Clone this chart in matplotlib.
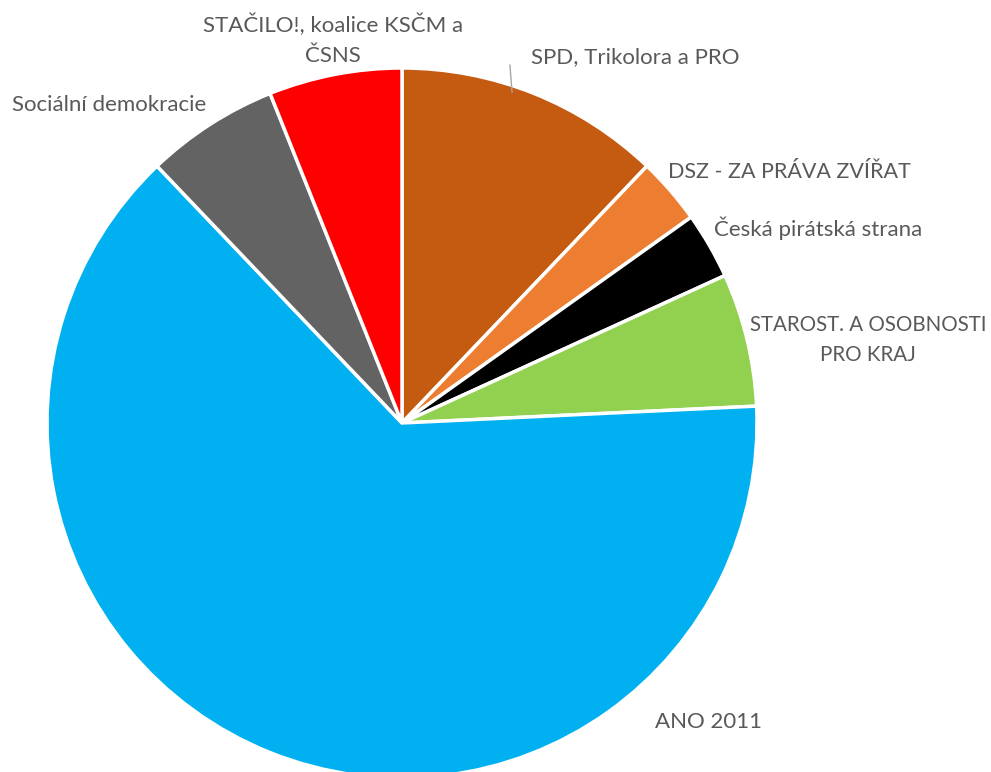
import matplotlib
matplotlib.use("Agg")
import matplotlib.pyplot as plt

# Data
parties = ["SPD, Trikolora a PRO", "DSZ - ZA PRÁVA ZVÍŘAT", "Česká pirátská strana",
           "STAROST. A OSOBNOSTI\nPRO KRAJ", "ANO 2011", "Sociální demokracie",
           "STAČILO!, koalice KSČM a\nČSNS"]
seats = [4, 1, 1, 2, 21, 2, 2]
colors = ["#C55A11", "#ED7D31", "#000000", "#92D050", "#00B0F0", "#636363", "#FF0000"]

# label positions (data coords, radius = 1) and font sizes
label_pos = [(0.656, 1.031), (1.090, 0.707), (1.172, 0.549), (1.312, 0.234),
             (0.862, -0.842), (-0.825, 0.896), (-0.194, 1.079)]
label_size = [16, 15.5, 16, 14.8, 16, 16, 16]

W, H = 991, 772
fig = plt.figure(figsize=(W / 100, H / 100), dpi=100)
cx, cy, r = 402, 423, 355
ax = fig.add_axes([(cx - r) / W, (H - cy - r) / H, 2 * r / W, 2 * r / H])

ax.pie(seats, colors=colors, startangle=90, counterclock=False, radius=1,
       wedgeprops=dict(edgecolor="white", linewidth=2.5))
ax.set_xlim(-1, 1)
ax.set_ylim(-1, 1)
ax.set_aspect("equal")
ax.axis("off")

for lab, (x, y), fs in zip(parties, label_pos, label_size):
    ax.text(x, y, lab, ha="center", va="center", color="#595959",
            fontsize=fs, family="Lato", linespacing=1.6, clip_on=False)

# leader line for SPD
ax.plot([0.304, 0.310], [1.008, 0.932], color="#A6A6A6", lw=1, clip_on=False)

fig.savefig("out.png", dpi=100)
